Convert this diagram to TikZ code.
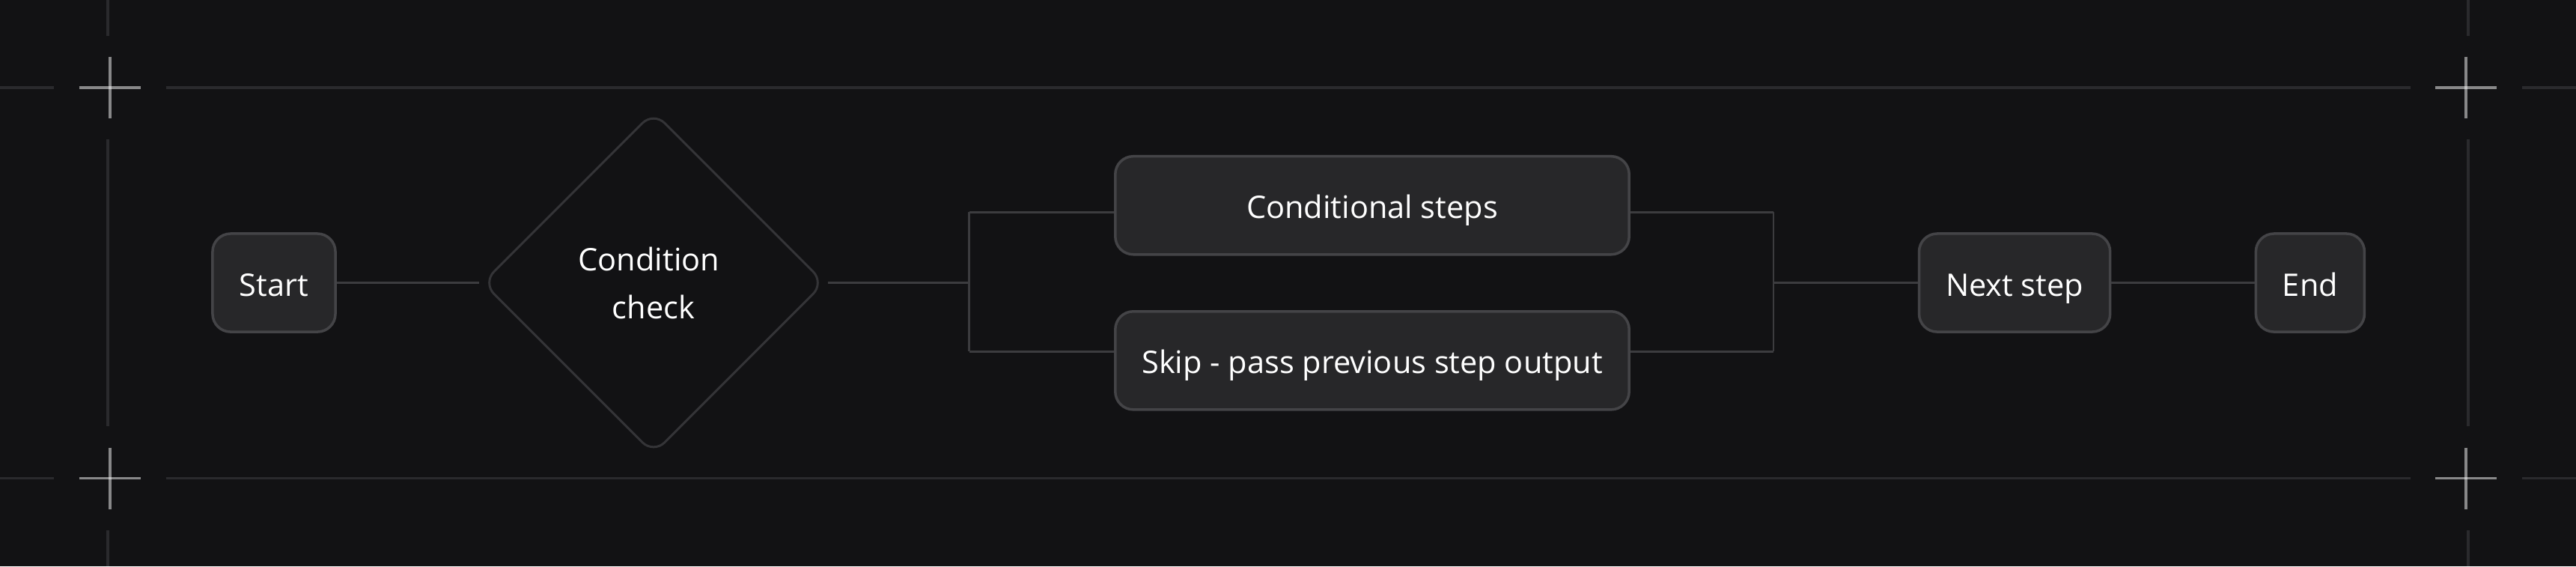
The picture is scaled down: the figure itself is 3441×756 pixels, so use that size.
\documentclass[tikz,border=0pt]{standalone}
\usepackage{fontspec}
\setmainfont{Open Sans}
\usetikzlibrary{shapes.geometric}
\definecolor{bgc}{HTML}{121214}
\definecolor{gridc}{HTML}{2A2A2D}
\definecolor{boxfill}{HTML}{272729}
\definecolor{boxline}{HTML}{444447}
\definecolor{diaine}{HTML}{343437}
\definecolor{connc}{HTML}{3C3C3F}
\definecolor{txtc}{HTML}{FFFFFF}
\tikzset{
  gridline/.style={draw=gridc, line width=1.05pt},
  crossarm/.style={draw=white, draw opacity=0.5, line width=1.1pt},
  stepbox/.style={draw=boxline, fill=boxfill, line width=1pt, rounded corners=0.24cm,
    minimum height=1.31cm, inner sep=0pt, text=txtc,
    font=\fontsize{11.8}{13.5}\selectfont, text height=10pt, text depth=0pt},
  decision/.style={diamond, draw=diaine, line width=0.85pt, rounded corners=0.21cm,
    minimum width=4.57cm, minimum height=4.57cm, inner sep=0pt, aspect=1,
    text=txtc, align=center, font=\fontsize{11.8}{18.2}\selectfont},
  conn/.style={draw=connc, line width=0.7pt}
}
\begin{document}
\begin{tikzpicture}[x=0.01cm,y=-0.01cm]
\useasboundingbox (0,0) rectangle (3441,756);
\fill[bgc] (0,0) rectangle (3441,756);
% frame lines
\foreach \yy in {116.7,638.5}{
  \draw[gridline] (0,\yy) -- (72,\yy);
  \draw[gridline] (221.5,\yy) -- (3219.5,\yy);
  \draw[gridline] (3369,\yy) -- (3441,\yy);
}
\foreach \xx in {144,3297}{
  \draw[gridline] (\xx,0) -- (\xx,47.7);
  \draw[gridline] (\xx,186) -- (\xx,569);
  \draw[gridline] (\xx,708) -- (\xx,756);
}
% crosses
\foreach \cx/\cy in {146.7/116.7,3294.3/116.7,146.7/638.5,3294.3/638.5}{
  \draw[crossarm] (\cx-41,\cy) -- (\cx+41,\cy);
  \draw[crossarm] (\cx,\cy-41) -- (\cx,\cy+41);
}
% nodes
\node[stepbox, minimum width=1.64cm] (start) at (366,377.5) {Start};
\node[decision] (dia) at (873,377.5) {\raisebox{-0.7pt}{Condition\kern3.5pt}\\\raisebox{-0.7pt}{check}};
\node[stepbox, minimum width=6.86cm] (cond) at (1833,274.2) {Conditional steps};
\node[stepbox, minimum width=6.86cm] (skip) at (1833,481.3) {Skip - pass previous step output};
\node[stepbox, minimum width=2.55cm] (next) at (2691.1,377.5) {Next step};
\node[stepbox, minimum width=1.45cm] (end) at (3085.9,377.5) {End};
% branch coordinates
\coordinate (bL) at (1294.7,377.5);
\coordinate (bLt) at (1294.7,283.3);
\coordinate (bLb) at (1294.7,469.3);
\coordinate (bR) at (2369,377.5);
\coordinate (bRt) at (2369,283.3);
\coordinate (bRb) at (2369,469.3);
% connectors
\draw[conn, shorten >=0.8pt] (start.east) -- (dia.west);
\draw[conn, shorten <=0.8pt] (dia.east) -- (bL);
\draw[conn] (bLt) -- (bLb);
\draw[conn] (bLt) -- (bLt -| cond.west);
\draw[conn] (bLb) -- (bLb -| skip.west);
\draw[conn] (bRt -| cond.east) -- (bRt);
\draw[conn] (bRb -| skip.east) -- (bRb);
\draw[conn] (bRt) -- (bRb);
\draw[conn] (bR) -- (next.west);
\draw[conn] (next.east) -- (end.west);
\end{tikzpicture}
\end{document}
